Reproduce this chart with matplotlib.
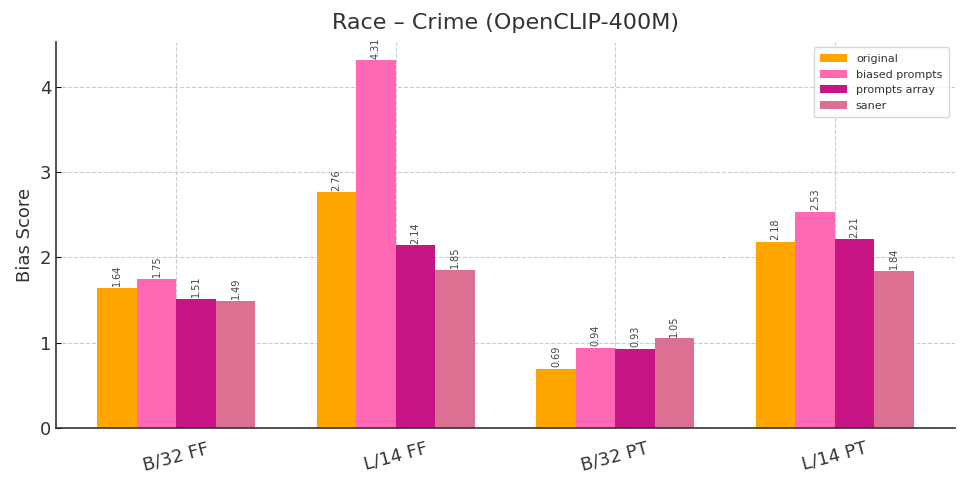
import matplotlib
matplotlib.use("Agg")
import matplotlib.pyplot as plt
import numpy as np

models = ["B/32 FF", "L/14 FF", "B/32 PT", "L/14 PT"]
series = ["original", "biased prompts", "prompts array", "saner"]
original = [1.64, 2.76, 0.69, 2.18]
biased_prompts = [1.75, 4.31, 0.94, 2.53]
prompts_array = [1.51, 2.14, 0.93, 2.21]
saner = [1.49, 1.85, 1.05, 1.84]
colors = ["#FFA500", "#FF69B4", "#C71585", "#DB7093"]

values = [original, biased_prompts, prompts_array, saner]

fig, ax = plt.subplots(figsize=(9.72, 4.93), dpi=100)
x = np.arange(len(models))
w = 0.18
for i, (name, vals, c) in enumerate(zip(series, values, colors)):
    bars = ax.bar(x + (i - 1.5) * w, vals, w, label=name, color=c)
    for b, v in zip(bars, vals):
        ax.text(b.get_x() + b.get_width() / 2, v + 0.02, f"{v:.2f}",
                ha="center", va="bottom", rotation=90, fontsize=7, color="#444444")

ax.set_title("Race – Crime (OpenCLIP-400M)", fontsize=16, color="#333333", pad=9)
ax.set_ylabel("Bias Score", fontsize=13, color="#333333")
ax.set_xticks(x)
ax.set_xticklabels(models, rotation=15, fontsize=13, color="#333333")
ax.tick_params(axis="y", labelsize=13, labelcolor="#333333")
ax.tick_params(direction="in")
ax.tick_params(axis="x", pad=8)
ax.set_ylim(0, max(biased_prompts) * 1.05)
ax.set_yticks([0, 1, 2, 3, 4])
ax.grid(True, linestyle="--", color="#cccccc", linewidth=0.8)
ax.set_axisbelow(True)
for s in ["top", "right"]:
    ax.spines[s].set_visible(False)
for s in ["left", "bottom"]:
    ax.spines[s].set_color("#333333")
    ax.spines[s].set_linewidth(1.2)
ax.legend(loc="upper right", fontsize=8, handlelength=2.4, borderpad=0.6,
          labelcolor="#333333")

fig.subplots_adjust(left=0.058, right=0.982, bottom=0.132, top=0.915)
plt.savefig("out.png", dpi=100)
